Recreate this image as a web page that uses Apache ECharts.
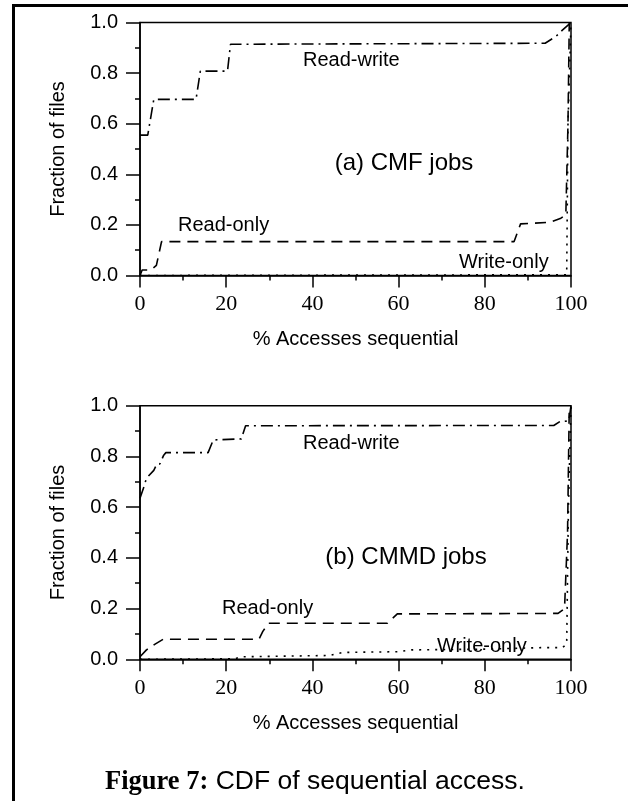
<!DOCTYPE html>
<html>
<head>
<meta charset="utf-8">
<script src="https://cdn.jsdelivr.net/npm/echarts@6/dist/echarts.min.js"></script>
<style>
  html, body { margin: 0; padding: 0; background: #fff; }
  #chart { width: 628px; height: 801px; }
</style>
</head>
<body>
<div id="chart"></div>
<script>
// (a) CMF jobs: [% accesses sequential, fraction of files]
const readWriteCmf = [[0, 0.555], [1.8, 0.555], [3.2, 0.696], [13, 0.696], [14, 0.808], [20.3, 0.808], [21, 0.914],
  [94, 0.918], [96.5, 0.945], [98, 0.97], [100, 1]]
const readOnlyCmf = [[0, 0], [0.5, 0.022], [2.5, 0.022], [3.8, 0.04], [5, 0.134], [86.8, 0.134], [88.3, 0.204],
  [95, 0.21], [97.5, 0.225], [98.8, 0.24], [99.3, 0.6], [99.6, 1]]
const writeOnlyCmf = [[0, 0], [99, 0.003], [99.3, 0.6], [100, 1]]

// (b) CMMD jobs
const readWriteCmmd = [[0, 0.635], [0.9, 0.68], [1.5, 0.714], [3.2, 0.745], [3.9, 0.77], [4.6, 0.77], [5.5, 0.805],
  [6, 0.815], [15.8, 0.815], [17, 0.865], [23.5, 0.869], [24.5, 0.921], [96, 0.922], [97.4, 0.937], [99.5, 0.94], [100, 1]]
const readOnlyCmmd = [[0, 0.01], [1.5, 0.037], [3.5, 0.06], [5.4, 0.079], [27.6, 0.079], [28.5, 0.11], [29.8, 0.142],
  [57.4, 0.142], [59.7, 0.179], [97, 0.181], [98.5, 0.2], [99.2, 0.5], [99.6, 1]]
const writeOnlyCmmd = [[0, 0], [22, 0.002], [23.5, 0.01], [44, 0.015], [47, 0.027], [60, 0.03], [63, 0.037],
  [80, 0.04], [93, 0.046], [98, 0.046], [99, 0.06], [99.4, 0.6], [100, 1]]

const panelTitles = ['(a) CMF jobs', '(b) CMMD jobs']
const xName = '% Accesses sequential'
const yName = 'Fraction of files'

const SANS = 'Liberation Sans, Arial, Helvetica, sans-serif'
const SERIF = 'Liberation Serif, Times New Roman, serif'
const black = '#000'

const chart = echarts.init(document.getElementById('chart'))

const grids = [
  { left: 140, top: 22.5, width: 431, height: 253 },
  { left: 140, top: 405.7, width: 431, height: 253.6 }
]

function xAxisFor(i) {
  return {
    gridIndex: i, type: 'value', min: 0, max: 100, interval: 20,
    axisLine: { onZero: false, lineStyle: { color: black, width: 1.5 } },
    axisTick: { length: 12, lineStyle: { color: black, width: 1.5 } },
    minorTick: { show: true, splitNumber: 2, length: 5, lineStyle: { color: black, width: 1.5 } },
    splitLine: { show: false },
    axisLabel: { fontFamily: SERIF, fontSize: 22, color: black, margin: 18 },
    name: xName, nameLocation: 'middle', nameGap: 54,
    nameTextStyle: { fontFamily: SANS, fontSize: 20, color: black }
  }
}

function yAxisFor(i) {
  return {
    gridIndex: i, type: 'value', min: 0, max: 1, interval: 0.2,
    axisLine: { onZero: false, lineStyle: { color: black, width: 1.5 } },
    axisTick: { length: 14, lineStyle: { color: black, width: 1.5 } },
    minorTick: { show: true, splitNumber: 2, length: 5, lineStyle: { color: black, width: 1.5 } },
    splitLine: { show: false },
    axisLabel: { fontFamily: SANS, fontSize: 20, color: black, margin: 22, formatter: v => v.toFixed(1) },
    name: yName, nameLocation: 'middle', nameGap: 72,
    nameTextStyle: { fontFamily: SANS, fontSize: 20, color: black }
  }
}

function line(name, data, i, dash) {
  return {
    name, type: 'line', xAxisIndex: i, yAxisIndex: i, data,
    showSymbol: false, silent: true,
    lineStyle: { color: black, width: 1.6, type: dash }
  }
}

const DASHDOT = [12, 5, 2, 5]
const DASHED = [11, 7]
const DOTTED = [2, 6]

function label(text, x, y, size, align) {
  return {
    type: 'text', x, y, silent: true,
    style: { text, fill: black, font: size + 'px ' + SANS, textAlign: align || 'left', textVerticalAlign: 'middle' }
  }
}

chart.setOption({
  animation: false,
  backgroundColor: '#fff',
  grid: grids.map(g => Object.assign({ show: true, borderColor: black, borderWidth: 1.5, backgroundColor: 'transparent' }, g)),
  xAxis: [xAxisFor(0), xAxisFor(1)],
  yAxis: [yAxisFor(0), yAxisFor(1)],
  series: [
    line('Read-write', readWriteCmf, 0, DASHDOT),
    line('Read-only', readOnlyCmf, 0, DASHED),
    line('Write-only', writeOnlyCmf, 0, DOTTED),
    line('Read-write', readWriteCmmd, 1, DASHDOT),
    line('Read-only', readOnlyCmmd, 1, DASHED),
    line('Write-only', writeOnlyCmmd, 1, DOTTED)
  ],
  graphic: [
    // page frame
    { type: 'line', silent: true, shape: { x1: 13, y1: 5.5, x2: 628, y2: 5.5 }, style: { stroke: black, lineWidth: 3 } },
    { type: 'line', silent: true, shape: { x1: 13.5, y1: 4, x2: 13.5, y2: 801 }, style: { stroke: black, lineWidth: 3 } },
    // panel (a)
    label('Read-write', 303, 60, 20),
    label(panelTitles[0], 404, 163, 24, 'center'),
    label('Read-only', 178, 225, 20),
    label('Write-only', 459, 262, 20),
    // panel (b)
    label('Read-write', 303, 443, 20),
    label(panelTitles[1], 406, 557, 24, 'center'),
    label('Read-only', 222, 608, 20),
    label('Write-only', 437, 646, 20),
    // caption
    {
      type: 'text', x: 105, y: 782, silent: true,
      style: {
        text: '{b|Figure 7:} CDF of sequential access.',
        fill: black, font: '26.5px ' + SANS, textVerticalAlign: 'middle',
        rich: { b: { fontFamily: SERIF, fontWeight: 'bold', fontSize: 26.5, fill: black } }
      }
    }
  ]
})
</script>
</body>
</html>
